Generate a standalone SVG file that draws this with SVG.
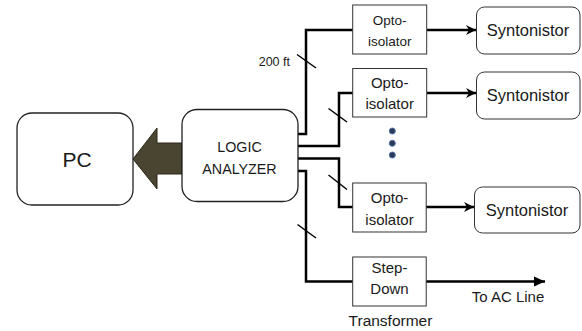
<svg xmlns="http://www.w3.org/2000/svg" width="582" height="331" viewBox="0 0 582 331">
<defs>
<marker id="stealth" markerUnits="userSpaceOnUse" markerWidth="12" markerHeight="12" viewBox="0 0 12 12" refX="10" refY="6" orient="auto">
<path d="M0,1 L10,6 L0,11 L3,6 z" fill="#000"/>
</marker>
<marker id="tri" markerUnits="userSpaceOnUse" markerWidth="12" markerHeight="12" viewBox="0 0 12 12" refX="11" refY="6" orient="auto">
<path d="M0,1 L11,6 L0,11 z" fill="#000"/>
</marker>
</defs>
<style>
text{font-family:"Liberation Sans",Arial,sans-serif;fill:#1a1a1a;text-anchor:middle}
.big{fill:#fff;stroke:#222;stroke-width:1.3}
.box{fill:#fff;stroke:#333;stroke-width:1}
.wire{fill:none;stroke:#000;stroke-width:2.5}
.slash{stroke:#000;stroke-width:1.5}
</style>
<rect width="582" height="331" fill="#fff"/>
<g id="connectors">
<path class="wire" d="M298,134 H306 V30 H353"/>
<path class="wire" d="M298,146 H339 V93 H353"/>
<path class="wire" d="M298,158.5 H339 V207 H353"/>
<path class="wire" d="M298,171 H306 V281.5 H353"/>
<line class="wire" x1="427" y1="30" x2="476" y2="30" marker-end="url(#stealth)"/>
<line class="wire" x1="427" y1="93" x2="476" y2="93" marker-end="url(#stealth)"/>
<line class="wire" x1="426" y1="207" x2="474" y2="207" marker-end="url(#stealth)"/>
<line class="wire" x1="426" y1="281.5" x2="545" y2="281.5" marker-end="url(#tri)"/>
<line class="slash" x1="297" y1="54.5" x2="316" y2="68"/>
<line class="slash" x1="328.5" y1="108.5" x2="347" y2="122"/>
<line class="slash" x1="328.5" y1="175" x2="347" y2="189.5"/>
<line class="slash" x1="297.5" y1="224.5" x2="316" y2="238"/>
<path d="M133,159 L157,128 V143 H182 V174 H157 V189 Z" fill="#4a4530" stroke="#2a2718" stroke-width="1"/>
</g>
<g id="pc">
<rect class="big" x="17" y="113" width="116" height="92" rx="15"/>
<text x="77" y="167" font-size="21">PC</text>
</g>
<g id="logic-analyzer">
<rect class="big" x="182" y="109.5" width="116" height="92" rx="15"/>
<text x="239.5" y="152" font-size="14.3">LOGIC</text>
<text x="239.5" y="174" font-size="14.3">ANALYZER</text>
</g>
<text x="290" y="66" font-size="12.5" style="text-anchor:end">200 ft</text>
<g id="opto1">
<rect class="box" x="352.7" y="5" width="74" height="49"/>
<text x="389.7" y="25" font-size="13.5">Opto-</text>
<text x="389.7" y="46" font-size="13.5">isolator</text>
</g>
<g id="opto2">
<rect class="box" x="352.7" y="68.5" width="74" height="48.5"/>
<text x="389.7" y="88" font-size="15">Opto-</text>
<text x="389.7" y="109" font-size="15">isolator</text>
</g>
<g id="opto3">
<rect class="box" x="352.7" y="183" width="73.5" height="49"/>
<text x="389.5" y="203" font-size="15">Opto-</text>
<text x="389.5" y="225" font-size="15">isolator</text>
</g>
<g id="stepdown">
<rect class="box" x="352.7" y="257" width="73.5" height="49"/>
<text x="389.5" y="273" font-size="15">Step-</text>
<text x="389.5" y="294" font-size="15">Down</text>
</g>
<text x="390.5" y="326" font-size="15.5">Transformer</text>
<text x="508" y="302" font-size="15">To AC Line</text>
<g id="synt1">
<rect class="box" x="476.5" y="7" width="103.5" height="47" rx="8" stroke-width="1.2"/>
<text x="528" y="36" font-size="16.5">Syntonistor</text>
</g>
<g id="synt2">
<rect class="box" x="476.5" y="72" width="103.5" height="47" rx="8" stroke-width="1.2"/>
<text x="528" y="101" font-size="16.5">Syntonistor</text>
</g>
<g id="synt3">
<rect class="box" x="474.5" y="187" width="105.5" height="46" rx="8" stroke-width="1.2"/>
<text x="527" y="215.5" font-size="16.5">Syntonistor</text>
</g>
<g id="dots" fill="#2e3a52" stroke="#4a72b0" stroke-width="1">
<circle cx="392.3" cy="131" r="3"/>
<circle cx="392.3" cy="143.3" r="3"/>
<circle cx="392.3" cy="155" r="3"/>
</g>
</svg>
